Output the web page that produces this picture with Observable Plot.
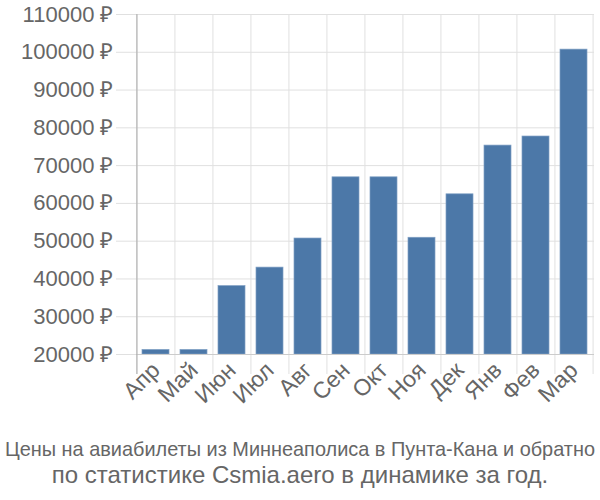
<!DOCTYPE html>
<html>
<head>
<meta charset="utf-8">
<script src="https://cdn.jsdelivr.net/npm/d3@7"></script>
<script src="https://cdn.jsdelivr.net/npm/@observablehq/plot@0.6"></script>
<style>
  html, body { margin: 0; padding: 0; background: #fff; }
  #chart svg { display: block; }
</style>
</head>
<body>
<div id="chart"></div>
<script>
const months = ["Апр","Май","Июн","Июл","Авг","Сен","Окт","Ноя","Дек","Янв","Фев","Мар"];
const prices = [21200,21200,38100,43000,50700,66900,66900,50900,62400,75300,77700,100700];
const yTicks = [20000,30000,40000,50000,60000,70000,80000,90000,100000,110000];
const captionLines = [
  "Цены на авиабилеты из Миннеаполиса в Пунта-Кана и обратно",
  "по статистике Csmia.aero в динамике за год."
];

const FONT = "'Liberation Sans', Arial, sans-serif";
const W = 600, H = 425, ML = 136, MR = 6, MT = 14, MB = 71;
const step = (W - ML - MR) / months.length;
const data = months.map((m, i) => ({month: m, price: prices[i]}));

const chart = Plot.plot({
  width: W, height: H,
  marginLeft: ML, marginRight: MR, marginTop: MT, marginBottom: MB,
  style: {fontFamily: FONT, color: "#666", background: "#fff"},
  x: {domain: months, paddingInner: 0.28, paddingOuter: 0.14, label: null},
  y: {domain: [20000, 110000], label: null},
  marks: [
    Plot.ruleY(yTicks, {stroke: "#e0e0e0", strokeWidth: 1, insetLeft: -20}),
    Plot.ruleX(months, {dx: -step / 2, stroke: "#e0e0e0", insetBottom: -20}),
    Plot.ruleX([months[months.length - 1]], {dx: step / 2, stroke: "#e0e0e0", insetBottom: -20}),
    Plot.barY(data, {x: "month", y1: 20000, y2: "price", fill: "#4c78a8", stroke: "#7f9fc4", strokeWidth: 0.7}),
    Plot.ruleY([20000], {stroke: "#ccc"}),
    Plot.ruleX([months[0]], {dx: -step / 2, stroke: "#aaa", insetBottom: -20}),
    Plot.axisY({ticks: yTicks, tickFormat: d => d + " ₽", tickSize: 0, tickPadding: 23, fontSize: 22, label: null}),
    Plot.axisX({tickSize: 0, tickRotate: -45, tickPadding: 12, fontSize: 23, label: null})
  ]
});
document.getElementById("chart").appendChild(chart);

// caption
const ns = "http://www.w3.org/2000/svg";
const cap = document.createElementNS(ns, "svg");
cap.setAttribute("width", W);
cap.setAttribute("height", 75);
cap.style.display = "block";
const capSizes = [21, 24];
const capY = [31, 58];
captionLines.forEach((t, i) => {
  const tx = document.createElementNS(ns, "text");
  tx.setAttribute("x", W / 2);
  tx.setAttribute("y", capY[i]);
  tx.setAttribute("text-anchor", "middle");
  tx.setAttribute("fill", "#666");
  tx.setAttribute("font-family", FONT);
  tx.setAttribute("font-size", capSizes[i]);
  if (i === 0) {
    tx.setAttribute("textLength", 590);
    tx.setAttribute("lengthAdjust", "spacingAndGlyphs");
  }
  tx.textContent = t;
  cap.appendChild(tx);
});
document.getElementById("chart").appendChild(cap);
</script>
</body>
</html>
